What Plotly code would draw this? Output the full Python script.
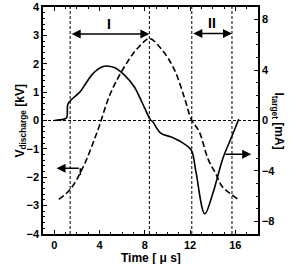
import plotly.graph_objects as go

# Discharge voltage (dashed, left axis, kV)
t_v = [0.4, 1.4, 2.5, 3.8, 5.0, 6.6, 7.6, 8.4, 9.5, 10.6, 11.5, 12.1, 12.8, 13.6, 14.3, 14.8, 15.5, 16.2, 16.4]
v_dis = [-2.78, -2.43, -1.68, -0.39, 0.99, 2.15, 2.65, 2.89, 2.5, 1.8, 0.8, 0.05, -0.39, -1.37, -1.9, -2.31, -2.56, -2.76, -2.78]

# Target current (solid, right axis, mA)
t_i = [0.0, 0.5, 1.07, 1.2, 1.57, 2.3, 2.75, 3.5, 4.4, 5.3, 6.2, 7.05, 7.8, 8.5, 8.7, 9.4, 10.3, 11.2, 12.1, 12.5, 13.3, 14.0, 14.9, 15.6, 16.3]
i_tar = [0.0, 0.05, 0.2, 1.3, 1.7, 2.3, 2.9, 3.8, 4.3, 4.2, 3.6, 2.7, 1.35, 0.05, -0.1, -1.0, -1.3, -1.7, -2.35, -4.0, -7.4, -5.8, -3.0, -1.45, 0.1]

vlines = [1.4, 8.4, 12.15, 15.7]
x_ticks = [0, 4, 8, 12, 16]
y_ticks = [-4, -3, -2, -1, 0, 1, 2, 3, 4]
y2_ticks = [-8, -4, 0, 4, 8]

font = dict(family="Liberation Sans, Arial", size=12, color="black", weight="bold")
tickfont = dict(font, size=11)

fig = go.Figure()
fig.add_trace(go.Scatter(x=t_v, y=v_dis, mode="lines", line=dict(color="black", width=1.6, dash="6px,3px"),
                         line_shape="spline", showlegend=False, yaxis="y"))
fig.add_trace(go.Scatter(x=t_i, y=i_tar, mode="lines", line=dict(color="black", width=1.6),
                         line_shape="spline", showlegend=False, yaxis="y2"))

for xv in vlines:
    fig.add_shape(type="line", x0=xv, x1=xv, y0=-4, y1=4, xref="x", yref="y",
                  line=dict(color="black", width=1, dash="3px,2px"))
fig.add_shape(type="line", x0=-1, x1=18, y0=0, y1=0, xref="x", yref="y",
              line=dict(color="black", width=1, dash="3px,2px"))

# Region arrows
def arrow(x0, x1, y, both=True, yref="y"):
    fig.add_annotation(x=x1, y=y, ax=x0, ay=y, xref="x", yref=yref, axref="x", ayref=yref,
                       text="", showarrow=True, arrowhead=2, arrowsize=1.2, arrowwidth=1.5,
                       arrowcolor="black", arrowside="end+start" if both else "end")

arrow(1.4, 8.4, 3.05)
arrow(12.15, 15.7, 3.07)
arrow(2.3, 0.2, -1.68, both=False)
fig.add_shape(type="line", x0=2.3, x1=2.3, y0=-1.68, y1=-1.92, xref="x", yref="y",
              line=dict(color="black", width=1.5))
arrow(15.0, 17.4, -2.67, both=False, yref="y2")

fig.add_annotation(x=4.8, y=3.4, text="I", showarrow=False, xref="x", yref="y", font=dict(font, size=14))
fig.add_annotation(x=13.9, y=3.42, text="II", showarrow=False, xref="x", yref="y", font=dict(font, size=14))

fig.add_annotation(x=-0.153, y=0.5, xref="paper", yref="paper", text="V<sub>discharge</sub> [kV]",
                   textangle=-90, showarrow=False, font=font)
fig.add_annotation(x=1.14, y=0.5, xref="paper", yref="paper", text="I<sub>target</sub> [mA]",
                   textangle=90, showarrow=False, font=font)
fig.add_annotation(x=0.5, y=-0.106, xref="paper", yref="paper", text="Time [ μ s]",
                   showarrow=False, font=font, yanchor="middle")

axis_common = dict(showline=True, linecolor="black", linewidth=1.5, ticks="inside", ticklen=4,
                   tickwidth=1.2, tickcolor="black", showgrid=False, zeroline=False, tickfont=tickfont,
                   automargin=False)

fig.update_layout(
    width=298, height=264,
    margin=dict(l=43, r=40, t=7, b=30),
    paper_bgcolor="white", plot_bgcolor="white",
    xaxis=dict(range=[-1, 18], tickvals=x_ticks, mirror="ticks",
               minor=dict(dtick=1, tick0=0, ticks="inside", ticklen=2, tickcolor="black"), **axis_common),
    yaxis=dict(range=[-4, 4], tickvals=y_ticks,
               minor=dict(dtick=0.2, tick0=0, ticks="inside", ticklen=2, tickcolor="black"), **axis_common),
    yaxis2=dict(range=[-9, 9], tickvals=y2_ticks, overlaying="y", side="right",
                minor=dict(dtick=1, tick0=0, ticks="inside", ticklen=2, tickcolor="black"), **axis_common),
)

fig.write_html("out.html", config={"displayModeBar": False},
               post_script="document.body.style.margin='0';document.body.style.overflow='hidden';")
